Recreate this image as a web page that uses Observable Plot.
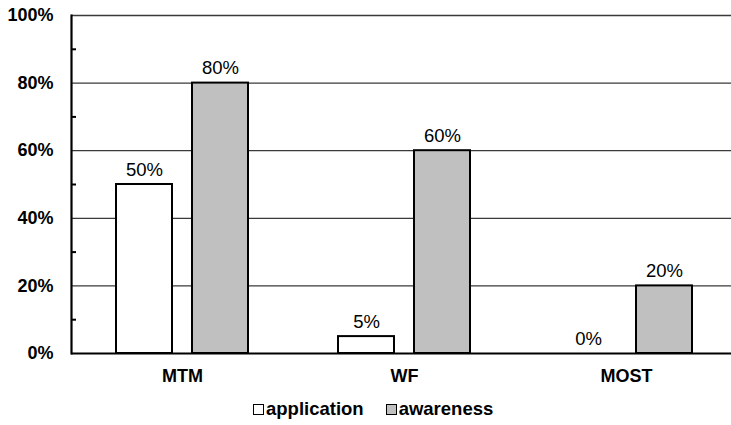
<!DOCTYPE html>
<html>
<head>
<meta charset="utf-8">
<script src="https://cdn.jsdelivr.net/npm/d3@7"></script>
<script src="https://cdn.jsdelivr.net/npm/@observablehq/plot@0.6"></script>
<style>
  html, body { margin: 0; padding: 0; background: #fff; overflow: hidden; }
  #chart svg { overflow: hidden; display: block; }
  .legend { display: flex; align-items: center; margin-left: 253px; height: 38px;
            font: bold 18.5px "Liberation Sans", Arial, sans-serif; color: #000; }
  .legend .item { display: flex; align-items: center; margin-right: 22px; }
  .legend .sw { width: 9px; height: 9px; border: 1.6px solid #000; margin-right: 2px; }
</style>
</head>
<body>
<div id="chart"></div>
<div class="legend" id="legend"></div>
<script>
const categories = ["MTM", "WF", "MOST"];
const series = ["application", "awareness"];
const application = [0.50, 0.05, 0.00];
const awareness = [0.80, 0.60, 0.20];
const yTicks = [0, 0.2, 0.4, 0.6, 0.8, 1.0];
const gridTicks = [0.2, 0.4, 0.6, 0.8, 1.0];
const minorTicks = [0.1, 0.3, 0.5, 0.7, 0.9];
const colors = ["#ffffff", "#c0c0c0"];

const values = [application, awareness];
const data = categories.flatMap((c, i) =>
  series.map((s, j) => ({cat: c, series: s, value: values[j][i]})));

const fmt = d3.format(".0%");
const font = "Liberation Sans, Arial, sans-serif";

const chart = Plot.plot({
  width: 731,
  height: 390,
  marginTop: 15,
  marginBottom: 37,
  marginLeft: 71,
  marginRight: 0,
  style: {fontFamily: font, background: "#fff"},
  fx: {domain: categories, range: [71, 737], padding: 0, label: null},
  x: {domain: series, paddingInner: 0.263, paddingOuter: 0.592, axis: null},
  y: {domain: [0, 1], axis: null},
  color: {domain: series, range: colors},
  marks: [
    Plot.ruleY(gridTicks, {stroke: "#3a3a3a", strokeWidth: 1.3}),
    Plot.barY(data, {fx: "cat", x: "series", y: "value", fill: "series", stroke: "#000", strokeWidth: 2}),
    Plot.text(data, {fx: "cat", x: "series", y: "value", text: d => fmt(d.value),
      lineAnchor: "bottom", dy: -9, fontSize: 18.5, fill: "#000"}),
    Plot.ruleY([0], {stroke: "#000", strokeWidth: 2.2}),
    Plot.axisY({ticks: yTicks, tickFormat: fmt, tickSize: 0, tickPadding: 18,
      fontWeight: "bold", fontSize: 18, fill: "#000", label: null}),
    Plot.axisY({ticks: minorTicks, tickFormat: () => "", tickSize: -5, strokeWidth: 2, label: null}),
    Plot.frame({anchor: "left", facetAnchor: "left", stroke: "#000", strokeWidth: 2.2}),
    Plot.axisFx({anchor: "bottom", tickSize: 0, tickPadding: 16, fontWeight: "bold", fontSize: 18, fill: "#000", label: null})
  ]
});
document.getElementById("chart").appendChild(chart);

const legend = document.getElementById("legend");
series.forEach((s, i) => {
  const item = document.createElement("div");
  item.className = "item";
  const sw = document.createElement("span");
  sw.className = "sw";
  sw.style.background = colors[i];
  item.appendChild(sw);
  item.appendChild(document.createTextNode(s));
  legend.appendChild(item);
});
</script>
</body>
</html>
